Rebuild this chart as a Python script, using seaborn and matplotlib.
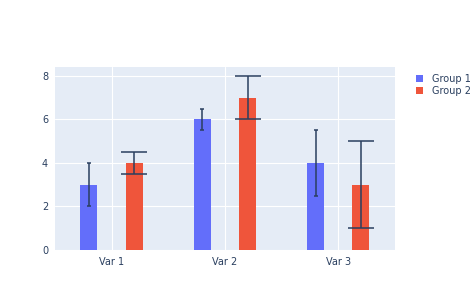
import pandas as pd
import matplotlib.pyplot as plt
import seaborn as sns

categories = ['Var 1', 'Var 2', 'Var 3']
groups = ['Group 1', 'Group 2']
group1_vals = [3, 6, 4]
group2_vals = [4, 7, 3]
group1_err = [1, 0.5, 1.5]
group2_err = [0.5, 1, 2]

colors = ['#636efa', '#EF553B']
text_color = '#2a3f5f'
bg = '#E5ECF6'

df = pd.DataFrame({
    'var': categories * 2,
    'group': [groups[0]] * 3 + [groups[1]] * 3,
    'value': group1_vals + group2_vals,
})

sns.set_style('white')
plt.rcParams['font.family'] = ['DejaVu Sans']

fig = plt.figure(figsize=(4.74, 3.04), dpi=100)
ax = fig.add_axes([0.116, 0.178, 0.717, 0.602])
ax.set_facecolor(bg)

sns.barplot(data=df, x='var', y='value', hue='group', palette=colors,
            gap=0.625, saturation=1, errorbar=None, linewidth=0,
            ax=ax, zorder=2)

# error bars at bar centres
errs = [group1_err, group2_err]
vals = [group1_vals, group2_vals]
caps = [1.6, 9.7]
for cont, v, e, c in zip(ax.containers, vals, errs, caps):
    xs = [p.get_x() + p.get_width() / 2 for p in cont]
    ax.errorbar(xs, v, yerr=e, fmt='none', ecolor=text_color, elinewidth=1.1,
                capsize=c, capthick=1.1, zorder=3)

ax.set_xlim(-0.5, 2.5)
ax.set_ylim(0, 8.42)
ax.set_yticks([0, 2, 4, 6, 8])
ax.grid(True, color='white', linewidth=0.8, zorder=0)
ax.set_axisbelow(True)
for s in ax.spines.values():
    s.set_visible(False)
ax.tick_params(length=0, labelsize=7, colors=text_color, pad=5)
ax.set_xlabel('')
ax.set_ylabel('')

handles, labels = ax.get_legend_handles_labels()
ax.get_legend().remove()
fig.legend(handles, labels, loc='upper left', bbox_to_anchor=(0.86, 0.787),
           frameon=False, fontsize=7, handlelength=0.72, handleheight=0.72,
           labelcolor=text_color, handletextpad=0.85, labelspacing=0.25)

fig.savefig('out.png', dpi=100)
